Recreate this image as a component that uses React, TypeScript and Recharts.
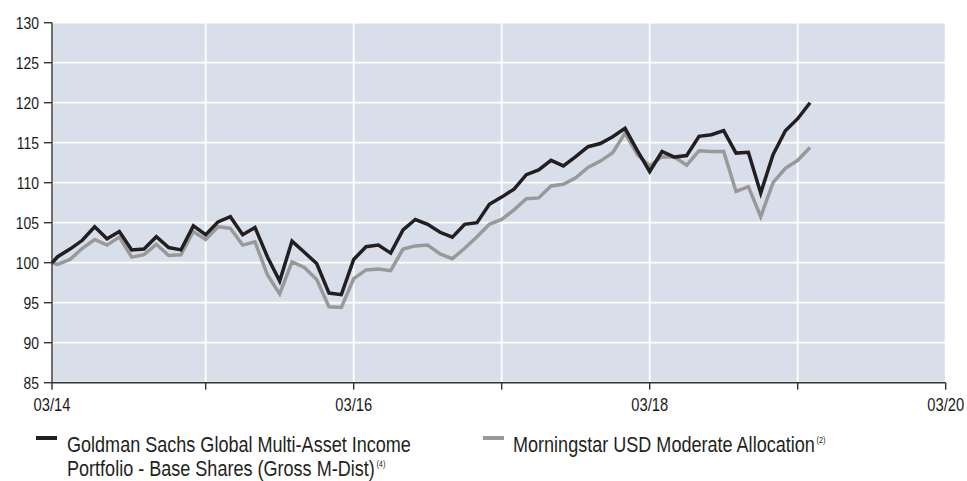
import React from 'react';
import { LineChart, Line, XAxis, YAxis, CartesianGrid, Legend } from 'recharts';

// Arial-metric font, horizontally condensed to mimic the narrow face of the original
const FONT = "'Liberation Sans', Arial, sans-serif";
const NARROW = 0.82;

// x positions: months after 03/14 (first point = inception, just before month 0)
const startOffset = -0.46;
const monthOffsets: number[] = [startOffset, ...Array.from({ length: 62 }, (_, i) => i)];

const gsValues = [
  100, 100.75, 101.7, 102.8, 104.5, 103.0, 103.9, 101.6, 101.7, 103.25, 101.9,
  101.6, 104.6, 103.5, 105.1, 105.75, 103.5, 104.4, 100.75, 97.7, 102.7,
  101.3, 99.9, 96.2, 96.0, 100.4, 102.0, 102.2, 101.2, 104.1, 105.4,
  104.8, 103.8, 103.2, 104.8, 105.0, 107.3, 108.2, 109.2, 111.0, 111.6,
  112.8, 112.1, 113.25, 114.5, 114.9, 115.75, 116.8, 114.0, 111.4, 113.9,
  113.2, 113.4, 115.8, 116.0, 116.5, 113.7, 113.8, 108.7, 113.5, 116.5,
  118.0, 120.0,
];

const msValues = [
  100, 99.8, 100.4, 101.8, 102.9, 102.2, 103.2, 100.7, 101.0, 102.3, 100.9,
  101.0, 103.9, 102.9, 104.5, 104.3, 102.2, 102.6, 98.5, 96.1, 100.1,
  99.4, 97.9, 94.5, 94.4, 98.0, 99.1, 99.2, 99.0, 101.7, 102.1,
  102.2, 101.1, 100.5, 101.8, 103.25, 104.8, 105.4, 106.6, 108.0, 108.1,
  109.6, 109.8, 110.6, 111.9, 112.7, 113.75, 116.2, 113.5, 112.1, 113.25,
  113.2, 112.2, 114.0, 113.9, 113.9, 108.9, 109.5, 105.75, 110.0, 111.8,
  112.8, 114.4,
];

const xTickValues = [startOffset, 12, 24, 36, 48, 60, 72];
const xTickLabels = ['03/14', '', '03/16', '', '03/18', '', '03/20'];
const yTickValues = [85, 90, 95, 100, 105, 110, 115, 120, 125, 130];

const gsNameLine1 = 'Goldman Sachs Global Multi-Asset Income';
const gsNameLine2 = 'Portfolio - Base Shares (Gross M-Dist)';
const gsNote = '(4)';
const msName = 'Morningstar USD Moderate Allocation';
const msNote = '(2)';

const GS_COLOR = '#231F20';
const MS_COLOR = '#999999';
const TEXT_COLOR = '#1A1A1A';

const data = monthOffsets.map((m, i) => ({ m, gs: gsValues[i], ms: msValues[i] }));

const XTick = (props: any) => {
  const { x, y, payload } = props;
  const idx = xTickValues.indexOf(payload.value);
  const label = idx >= 0 ? xTickLabels[idx] : '';
  if (!label) return null;
  return (
    <text
      transform={`translate(${x},${y}) scale(${NARROW},1)`}
      textAnchor="middle"
      dy="0.71em"
      fontSize={18}
      fontFamily={FONT}
      fill={TEXT_COLOR}
    >
      {label}
    </text>
  );
};

const YTick = (props: any) => {
  const { x, y, payload } = props;
  return (
    <text
      transform={`translate(${x},${y}) scale(${NARROW},1)`}
      textAnchor="end"
      dy="0.355em"
      fontSize={17}
      fontFamily={FONT}
      fill={TEXT_COLOR}
    >
      {payload.value}
    </text>
  );
};

const supStyle: React.CSSProperties = {
  fontSize: 9,
  verticalAlign: 'top',
  lineHeight: '9px',
  position: 'relative',
  top: 3,
  marginLeft: 2,
};

const legendText: React.CSSProperties = {
  position: 'absolute',
  top: 432.5,
  fontSize: 22,
  lineHeight: '24px',
  whiteSpace: 'nowrap',
  transform: `scaleX(${NARROW})`,
  transformOrigin: 'left top',
};

const LegendContent = () => (
  <div style={{ position: 'relative', width: 967, height: 0, fontFamily: FONT, color: GS_COLOR }}>
    <div style={{ position: 'absolute', left: 36, top: 435.5, width: 21, height: 4.5, background: GS_COLOR }} />
    <div style={{ ...legendText, left: 66.7 }}>
      {gsNameLine1}
      <br />
      {gsNameLine2}
      <span style={supStyle}>{gsNote}</span>
    </div>
    <div style={{ position: 'absolute', left: 483.3, top: 435.5, width: 21, height: 4.5, background: MS_COLOR }} />
    <div style={{ ...legendText, left: 513.3 }}>
      {msName}
      <span style={supStyle}>{msNote}</span>
    </div>
  </div>
);

export default function App() {
  return (
    <div
      style={{
        position: 'fixed',
        left: 0,
        top: 0,
        width: 967,
        height: 481,
        overflow: 'hidden',
        background: '#FFFFFF',
      }}
    >
      <LineChart
        width={967}
        height={481}
        data={data}
        margin={{ top: 22.7, right: 21.3, bottom: 68.3, left: 0 }}
      >
        <CartesianGrid fill="#D9DFEA" fillOpacity={1} stroke="#FFFFFF" strokeWidth={1.8} />
        <XAxis
          type="number"
          dataKey="m"
          domain={[startOffset, 72]}
          ticks={xTickValues}
          interval={0}
          height={30}
          tickSize={7}
          tickMargin={9}
          axisLine={{ stroke: '#333333', strokeWidth: 1.4 }}
          tickLine={{ stroke: '#333333', strokeWidth: 1.4 }}
          tick={<XTick />}
        />
        <YAxis
          type="number"
          domain={[85, 130]}
          ticks={yTickValues}
          interval={0}
          width={52}
          tickSize={8}
          tickMargin={5}
          axisLine={{ stroke: '#333333', strokeWidth: 1.4 }}
          tickLine={{ stroke: '#333333', strokeWidth: 1.4 }}
          tick={<YTick />}
        />
        <Legend
          content={<LegendContent />}
          wrapperStyle={{ top: 0, left: 0, width: 967, height: 0 }}
        />
        <Line
          type="linear"
          dataKey="ms"
          name={msName}
          stroke={MS_COLOR}
          strokeWidth={3.5}
          dot={false}
          activeDot={false}
          isAnimationActive={false}
        />
        <Line
          type="linear"
          dataKey="gs"
          name={`${gsNameLine1} ${gsNameLine2}`}
          stroke={GS_COLOR}
          strokeWidth={3.5}
          dot={false}
          activeDot={false}
          isAnimationActive={false}
        />
      </LineChart>
    </div>
  );
}
